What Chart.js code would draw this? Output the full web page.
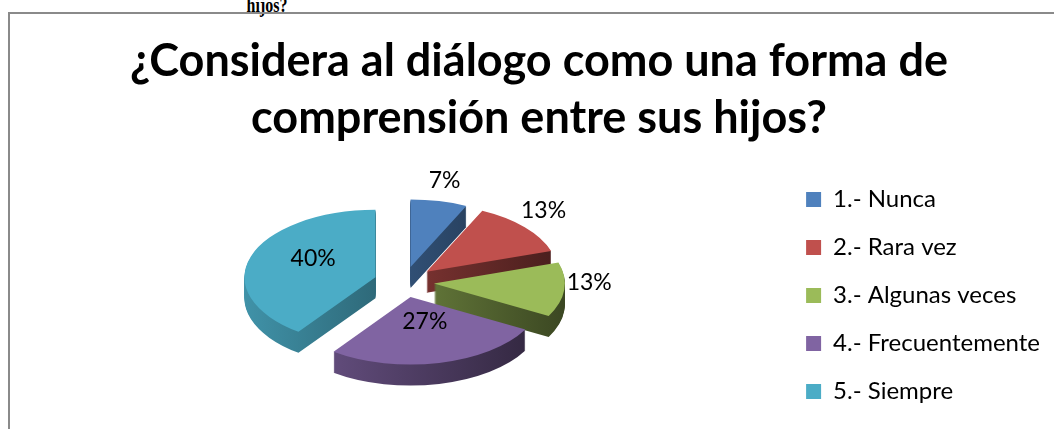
<!DOCTYPE html>
<html>
<head>
<meta charset="utf-8">
<script src="https://cdn.jsdelivr.net/npm/chart.js@4.4.0/dist/chart.umd.min.js"></script>
<style>
  html, body { margin: 0; padding: 0; background: #fff; overflow: hidden; width: 1054px; height: 429px; }
  #cap { position: absolute; left: 0; top: -7px; width: 534px; text-align: center;
         font: bold 21px "Liberation Serif"; line-height: 24px; color: #000;
         transform: scaleX(0.76); transform-origin: 267px 0; }
  #cadre { position: absolute; left: 8px; top: 12px; width: 1100px; height: 500px;
           border-left: 2px solid #8a8a8a; border-top: 2px solid #8a8a8a; }
  #boite { position: absolute; left: 10px; top: 14px; width: 1058px; height: 430px; }
</style>
</head>
<body>
<div id="cap">hijos?</div>
<div id="cadre"></div>
<div id="boite"><canvas id="graf" width="1058" height="430"></canvas></div>
<script>
// données du graphique
const categorias = ['1.- Nunca', '2.- Rara vez', '3.- Algunas veces', '4.- Frecuentemente', '5.- Siempre'];
const porcentajes = [7, 13, 13, 27, 40];
const colores = ['#4F81BD', '#C0504D', '#9BBB59', '#8064A2', '#4BACC6'];
const titulo = ['¿Considera al diálogo como una forma de', 'comprensión entre sus hijos?'];

// réglages de la vue 3D
const CX = 394, CY = 268;   // centre du camembert dans le canvas
const RATIO = 0.515;        // aplatissement vertical
const PROF = 21;            // épaisseur
const ECART = 30;           // éclatement des parts
const DECALAGE_ETIQ = -8;   // remonte un peu les pourcentages (effet perspective)

function teinte(hex, f) {
  const n = parseInt(hex.slice(1), 16);
  const r = Math.round(((n >> 16) & 255) * f);
  const g = Math.round(((n >> 8) & 255) * f);
  const b = Math.round((n & 255) * f);
  return 'rgb(' + r + ',' + g + ',' + b + ')';
}

// dessine les parts en perspective (côtés puis dessus) et les pourcentages
const camembert3d = {
  id: 'camembert3d',
  beforeDatasetsDraw(chart) {
    const ctx = chart.ctx;
    const arcs = chart.getDatasetMeta(0).data;

    const vue = (arc, dy) => {
      const mid = (arc.startAngle + arc.endAngle) / 2;
      ctx.translate(0, CY + dy);
      ctx.scale(1, RATIO);
      ctx.translate(CX - arc.x + Math.cos(mid) * ECART, -arc.y + Math.sin(mid) * ECART);
    };

    // côtés
    for (let k = PROF; k >= 1; k--) {
      arcs.forEach((arc, i) => {
        ctx.save();
        vue(arc, k);
        const r = arc.outerRadius;
        const grad = ctx.createLinearGradient(arc.x - r, 0, arc.x + r, 0);
        grad.addColorStop(0, teinte(colores[i], 0.85));
        grad.addColorStop(1, teinte(colores[i], 0.38));
        const copie = Object.create(arc);
        copie.options = Object.assign({}, arc.options, { backgroundColor: grad });
        copie.draw(ctx);
        ctx.restore();
      });
    }

    // dessus
    arcs.forEach(arc => {
      ctx.save();
      vue(arc, 0);
      arc.draw(ctx);
      ctx.restore();
    });

    // étiquettes
    ctx.save();
    ctx.font = '23px Lato';
    ctx.fillStyle = '#000';
    ctx.textAlign = 'center';
    ctx.textBaseline = 'middle';
    arcs.forEach((arc, i) => {
      const mid = (arc.startAngle + arc.endAngle) / 2;
      const r = arc.outerRadius;
      const d = porcentajes[i] < 20 ? r * 1.42 : ECART + r * 0.5;
      ctx.fillText(porcentajes[i] + '%', CX + Math.cos(mid) * d,
        CY + DECALAGE_ETIQ + Math.sin(mid) * d * RATIO);
    });
    ctx.restore();
    return false;
  }
};

new Chart(document.getElementById('graf').getContext('2d'), {
  type: 'pie',
  data: {
    labels: categorias,
    datasets: [{
      data: porcentajes,
      backgroundColor: colores,
      borderWidth: 0,
      borderColor: 'rgba(0,0,0,0)',
      radius: 131
    }]
  },
  options: {
    responsive: false,
    animation: false,
    events: [],
    layout: { padding: { left: 18, right: 18, top: 0, bottom: 0 } },
    plugins: {
      title: {
        display: true,
        text: titulo,
        color: '#000',
        font: { family: 'Lato', size: 45, weight: 'bold', lineHeight: 1.267 },
        padding: { top: 19, bottom: 0 }
      },
      legend: {
        position: 'right',
        fullSize: false,
        labels: {
          boxWidth: 15,
          boxHeight: 15,
          padding: 24,
          color: '#000',
          font: { family: 'Lato', size: 24 }
        }
      },
      tooltip: { enabled: false }
    }
  },
  plugins: [camembert3d]
});
</script>
</body>
</html>
